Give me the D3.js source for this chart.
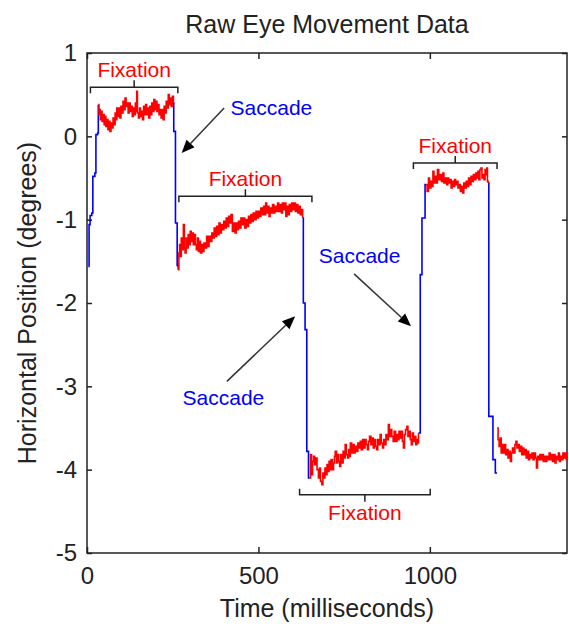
<!DOCTYPE html>
<html>
<head>
<meta charset="utf-8">
<script src="https://cdn.jsdelivr.net/npm/d3@7"></script>
<style>
body { margin: 0; background: #fff; }
svg text { font-family: "Liberation Sans", Arial, sans-serif; }
</style>
</head>
<body>
<div class="eye-plot"></div>
<script>
// eye position samples, [time in ms, horizontal position in degrees]
const saccade1 = [[4,-1.56],[6,-1.06],[9,-0.95],[14,-0.92],[17,-0.48],[23,-0.44],[26,0.02],[31,0.04],[33,0.38]];
const fixation1 = [[33,0.38],[35,0.26],[37,0.32],[39,0.20],[42,0.30],[44,0.18],[47,0.26],[50,0.14],[53,0.24],[55,0.12],
	[58,0.20],[61,0.08],[64,0.18],[67,0.06],[70,0.16],[73,0.10],[76,0.22],[79,0.14],[82,0.28],[85,0.20],
	[87,0.34],[90,0.24],[93,0.34],[96,0.22],[99,0.36],[102,0.28],[105,0.42],[108,0.32],[111,0.46],[114,0.36],
	[117,0.40],[120,0.28],[123,0.40],[126,0.30],[129,0.36],[132,0.24],[135,0.34],[138,0.26],[141,0.40],[144,0.30],
	[145,0.54],[147,0.28],[150,0.22],[153,0.34],[156,0.24],[159,0.30],[162,0.20],[165,0.36],[168,0.26],[171,0.38],
	[174,0.26],[177,0.34],[180,0.22],[183,0.36],[186,0.26],[189,0.40],[192,0.30],[195,0.44],[198,0.32],[201,0.42],
	[204,0.30],[207,0.38],[210,0.26],[213,0.32],[216,0.22],[219,0.32],[222,0.20],[225,0.36],[228,0.28],[231,0.42],
	[234,0.34],[237,0.50],[240,0.38],[243,0.46],[246,0.36],[249,0.48],[252,0.40]];
const saccade2 = [[252,0.40],[253,0.06],[258,-1.04],[263,-1.55],[266,-1.60]];
const fixation2 = [[266,-1.60],[268,-1.40],[270,-1.30],[272,-1.44],[275,-1.22],[278,-1.36],[281,-1.06],[284,-1.34],[286,-1.40],[289,-1.22],
	[292,-1.34],[295,-1.18],[298,-1.30],[301,-1.14],[304,-1.26],[307,-1.16],[310,-1.30],[313,-1.18],[316,-1.30],[319,-1.36],
	[322,-1.22],[325,-1.38],[328,-1.26],[331,-1.40],[335,-1.30],[338,-1.38],[341,-1.28],[345,-1.34],[349,-1.20],[352,-1.32],
	[356,-1.20],[360,-1.26],[364,-1.16],[367,-1.22],[371,-1.10],[374,-1.20],[378,-1.08],[381,-1.18],[385,-1.04],[388,-1.16],
	[392,-1.06],[395,-1.12],[399,-1.02],[403,-1.10],[406,-0.98],[410,-1.08],[413,-0.96],[417,-1.04],[420,-0.94],[424,-1.14],
	[428,-1.04],[432,-1.16],[435,-1.04],[439,-1.12],[442,-1.02],[446,-1.10],[449,-0.98],[453,-1.06],[456,-0.98],[460,-1.10],
	[464,-1.00],[467,-1.08],[471,-0.96],[475,-1.04],[478,-0.94],[482,-1.02],[485,-0.92],[489,-1.00],[493,-0.90],[496,-0.98],
	[500,-0.90],[504,-0.96],[507,-0.86],[511,-0.94],[515,-0.84],[518,-0.94],[521,-0.80],[524,-0.92],[528,-0.84],[531,-0.96],
	[534,-0.86],[538,-0.92],[541,-0.82],[545,-0.92],[548,-0.84],[552,-0.90],[556,-0.80],[559,-0.90],[563,-0.82],[567,-0.92],
	[570,-0.80],[573,-0.88],[577,-0.80],[580,-0.96],[583,-0.84],[587,-0.94],[590,-0.82],[594,-0.90],[597,-0.80],[601,-0.88],
	[604,-0.80],[608,-0.90],[612,-0.82],[615,-0.92],[619,-0.84],[622,-0.94],[625,-0.88],[629,-0.98]];
const saccade3 = [[629,-0.98],[631,-2.00],[636,-2.32],[641,-3.78],[646,-4.10],[650,-4.10]];
const fixation3 = [[650,-4.10],[652,-3.82],[655,-4.06],[658,-3.90],[661,-3.84],[664,-3.94],[668,-3.86],[671,-4.00],[675,-4.10],[678,-3.98],
	[681,-4.14],[685,-4.18],[688,-4.04],[690,-4.10],[694,-3.98],[697,-4.06],[700,-3.94],[703,-4.02],[706,-3.90],[709,-4.00],
	[712,-3.88],[716,-4.00],[719,-3.92],[722,-3.84],[724,-3.78],[728,-3.92],[731,-3.82],[734,-3.90],[737,-3.96],[740,-3.82],
	[743,-3.92],[747,-3.78],[750,-3.86],[753,-3.70],[756,-3.82],[760,-3.86],[763,-3.76],[766,-3.84],[768,-3.68],[772,-3.80],
	[775,-3.70],[779,-3.80],[782,-3.72],[786,-3.78],[790,-3.68],[793,-3.74],[797,-3.66],[800,-3.76],[804,-3.64],[807,-3.74],
	[811,-3.64],[814,-3.70],[818,-3.76],[821,-3.66],[824,-3.60],[828,-3.70],[831,-3.62],[835,-3.74],[838,-3.64],[842,-3.72],
	[845,-3.76],[848,-3.64],[852,-3.70],[855,-3.58],[858,-3.68],[862,-3.74],[865,-3.64],[869,-3.70],[872,-3.58],[876,-3.64],
	[879,-3.46],[882,-3.60],[886,-3.52],[889,-3.60],[893,-3.66],[896,-3.54],[900,-3.66],[904,-3.58],[907,-3.64],[910,-3.54],
	[914,-3.62],[917,-3.54],[920,-3.66],[923,-3.74],[926,-3.58],[929,-3.52],[933,-3.48],[936,-3.60],[940,-3.54],[943,-3.64],
	[946,-3.70],[949,-3.56],[952,-3.66],[956,-3.60],[959,-3.70],[962,-3.64],[965,-3.68],[967,-3.56]];
const saccade4 = [[967,-3.56],[972,-1.66],[977,-0.98],[986,-0.58],[989,-0.58]];
const fixation4 = [[989,-0.58],[992,-0.66],[996,-0.50],[999,-0.62],[1003,-0.54],[1006,-0.60],[1009,-0.42],[1012,-0.56],[1016,-0.48],[1019,-0.56],
	[1022,-0.40],[1026,-0.52],[1030,-0.46],[1034,-0.54],[1038,-0.44],[1041,-0.56],[1045,-0.50],[1049,-0.58],[1052,-0.50],[1055,-0.56],
	[1059,-0.52],[1062,-0.62],[1065,-0.54],[1069,-0.60],[1072,-0.52],[1075,-0.58],[1079,-0.54],[1082,-0.62],[1085,-0.58],[1089,-0.66],
	[1092,-0.60],[1096,-0.68],[1099,-0.56],[1103,-0.62],[1106,-0.54],[1110,-0.60],[1113,-0.50],[1117,-0.58],[1120,-0.48],[1124,-0.54],
	[1127,-0.46],[1130,-0.52],[1134,-0.44],[1137,-0.50],[1140,-0.42],[1143,-0.52],[1146,-0.40],[1149,-0.38],[1152,-0.50],[1155,-0.46],
	[1158,-0.52],[1161,-0.40],[1164,-0.46],[1166,-0.38],[1168,-0.54],[1170,-0.56]];
const saccade5 = [[1170,-0.56],[1172,-3.36],[1184,-3.88],[1191,-4.04],[1196,-4.04]];
const fixation5 = [[1196,-3.50],[1199,-3.64],[1202,-3.72],[1205,-3.62],[1208,-3.80],[1211,-3.70],[1214,-3.80],[1218,-3.70],[1221,-3.82],[1225,-3.76],
	[1228,-3.86],[1231,-3.78],[1235,-3.90],[1238,-3.80],[1241,-3.74],[1244,-3.80],[1248,-3.70],[1251,-3.66],[1254,-3.74],[1258,-3.70],
	[1261,-3.78],[1264,-3.72],[1268,-3.82],[1271,-3.74],[1274,-3.82],[1278,-3.76],[1281,-3.86],[1284,-3.78],[1288,-3.88],[1291,-3.82],
	[1294,-3.86],[1298,-3.80],[1301,-3.88],[1304,-3.80],[1308,-3.86],[1311,-3.98],[1314,-3.84],[1318,-3.88],[1321,-3.82],[1325,-3.88],
	[1328,-3.82],[1331,-3.90],[1335,-3.84],[1338,-3.90],[1341,-3.84],[1345,-3.88],[1348,-3.80],[1351,-3.88],[1355,-3.82],[1358,-3.90],
	[1361,-3.82],[1365,-3.92],[1368,-3.84],[1371,-3.88],[1375,-3.80],[1378,-3.90],[1381,-3.84],[1385,-3.88],[1388,-3.80],[1391,-3.86],
	[1395,-3.80],[1398,-3.88],[1400,-3.84]];

const saccades = [saccade1, saccade2, saccade3, saccade4, saccade5];
const fixations = [fixation1, fixation2, fixation3, fixation4, fixation5];

// ticks
const xTicks = [0, 500, 1000];
const yTicks = [-5, -4, -3, -2, -1, 0, 1];

// annotation brackets (ms, degrees)
const bracketStart = [10, 268, 952, 620];
const bracketEnd = [265, 656, 1196, 1001];
const bracketLevel = [0.59, -0.72, -0.32, -4.3];
const bracketSide = ['above', 'above', 'above', 'below'];

// saccade labels and arrows
const sacLabelT = [538, 795, 398];
const sacLabelY = [0.26, -1.52, -3.22];
const arrowFrom = [[400, 0.34], [779, -1.65], [408, -2.94]];
const arrowTo = [[276, -0.20], [945, -2.28], [607, -2.16]];

const width = 569;
const height = 624;
const margin = {top: 53, right: 2, bottom: 71, left: 87};
const ink = '#222';

const svg = d3.select('.eye-plot')
	.append('svg')
	.attr('width', width)
	.attr('height', height);

const x = d3.scaleLinear().domain([0, 1400]).range([margin.left, width - margin.right]);
const y = d3.scaleLinear().domain([-5, 1]).range([height - margin.bottom, margin.top]);

// axes, ticks inside the box on all four sides
const styleAxis = g => {
	g.select('.domain').remove();
	g.attr('font-size', 24).attr('font-family', '"Liberation Sans", Arial, sans-serif').attr('color', ink);
	g.selectAll('.tick line').attr('stroke-width', 1.5);
};

svg.append('g')
	.attr('transform', `translate(0,${y(-5)})`)
	.call(d3.axisBottom(x).tickValues(xTicks).tickSizeInner(-6).tickSizeOuter(0).tickPadding(14).tickFormat(d => String(d)))
	.call(styleAxis);

svg.append('g')
	.attr('transform', `translate(0,${y(1)})`)
	.call(d3.axisTop(x).tickValues(xTicks).tickSizeInner(-6).tickSizeOuter(0).tickFormat(''))
	.call(styleAxis);

svg.append('g')
	.attr('transform', `translate(${x(0)},0)`)
	.call(d3.axisLeft(y).tickValues(yTicks).tickSizeInner(-5).tickSizeOuter(0).tickPadding(10).tickFormat(d => String(d)))
	.call(styleAxis);

svg.append('g')
	.attr('transform', `translate(${x(1400)},0)`)
	.call(d3.axisRight(y).tickValues(yTicks).tickSizeInner(-5).tickSizeOuter(0).tickFormat(''))
	.call(styleAxis);

svg.append('rect')
	.attr('x', x(0))
	.attr('y', y(1))
	.attr('width', x(1400) - x(0))
	.attr('height', y(-5) - y(1))
	.attr('fill', 'none')
	.attr('stroke', ink)
	.attr('stroke-width', 1.5);

// trace
const line = d3.line()
	.x(d => x(d[0]))
	.y(d => y(d[1]))
	.curve(d3.curveStepAfter);

svg.selectAll('path.saccade')
	.data(saccades)
	.enter()
	.append('path')
	.attr('class', 'saccade')
	.attr('d', line)
	.attr('fill', 'none')
	.attr('stroke', '#0000ff')
	.attr('stroke-width', 1.6);

svg.selectAll('path.fixation')
	.data(fixations)
	.enter()
	.append('path')
	.attr('class', 'fixation')
	.attr('d', line)
	.attr('fill', 'none')
	.attr('stroke', '#ff0000')
	.attr('stroke-width', 1.6);

// fixation brackets
bracketStart.forEach((s, i) => {
	const x0 = x(s), x1 = x(bracketEnd[i]), yy = y(bracketLevel[i]);
	const dir = bracketSide[i] === 'above' ? 1 : -1;
	const xm = (x0 + x1) / 2;
	svg.append('path')
		.attr('d', `M${x0},${yy + dir * 6}V${yy}H${x1}V${yy + dir * 6}M${xm},${yy}V${yy - dir * 7}`)
		.attr('fill', 'none')
		.attr('stroke', ink)
		.attr('stroke-width', 1.5);
	svg.append('text')
		.attr('x', xm)
		.attr('y', dir === 1 ? yy - 10 : yy + 25)
		.attr('text-anchor', 'middle')
		.attr('font-size', 21)
		.attr('fill', '#ff0000')
		.text('Fixation');
});

// saccade labels
svg.selectAll('text.sac')
	.data(sacLabelT)
	.enter()
	.append('text')
	.attr('class', 'sac')
	.attr('x', d => x(d))
	.attr('y', (d, i) => y(sacLabelY[i]))
	.attr('text-anchor', 'middle')
	.attr('font-size', 21)
	.attr('fill', '#0000ff')
	.text('Saccade');

// arrows
arrowFrom.forEach((f, i) => {
	const x0 = x(f[0]), y0 = y(f[1]);
	const x1 = x(arrowTo[i][0]), y1 = y(arrowTo[i][1]);
	const a = Math.atan2(y1 - y0, x1 - x0);
	const len = 13, half = 5.5;
	const bx = x1 - len * Math.cos(a), by = y1 - len * Math.sin(a);
	svg.append('line')
		.attr('x1', x0).attr('y1', y0)
		.attr('x2', bx).attr('y2', by)
		.attr('stroke', '#333')
		.attr('stroke-width', 1.5);
	svg.append('path')
		.attr('d', `M${x1},${y1}L${bx + half * Math.sin(a)},${by - half * Math.cos(a)}L${bx - half * Math.sin(a)},${by + half * Math.cos(a)}Z`)
		.attr('fill', '#000');
});

// titles
svg.append('text')
	.attr('x', (x(0) + x(1400)) / 2)
	.attr('y', 33)
	.attr('text-anchor', 'middle')
	.attr('font-size', 25)
	.attr('fill', ink)
	.text('Raw Eye Movement Data');

svg.append('text')
	.attr('x', (x(0) + x(1400)) / 2)
	.attr('y', 617)
	.attr('text-anchor', 'middle')
	.attr('font-size', 25)
	.attr('fill', ink)
	.text('Time (milliseconds)');

svg.append('text')
	.attr('transform', `translate(36,${(y(1) + y(-5)) / 2}) rotate(-90)`)
	.attr('text-anchor', 'middle')
	.attr('font-size', 25)
	.attr('fill', ink)
	.text('Horizontal Position (degrees)');
</script>
</body>
</html>
